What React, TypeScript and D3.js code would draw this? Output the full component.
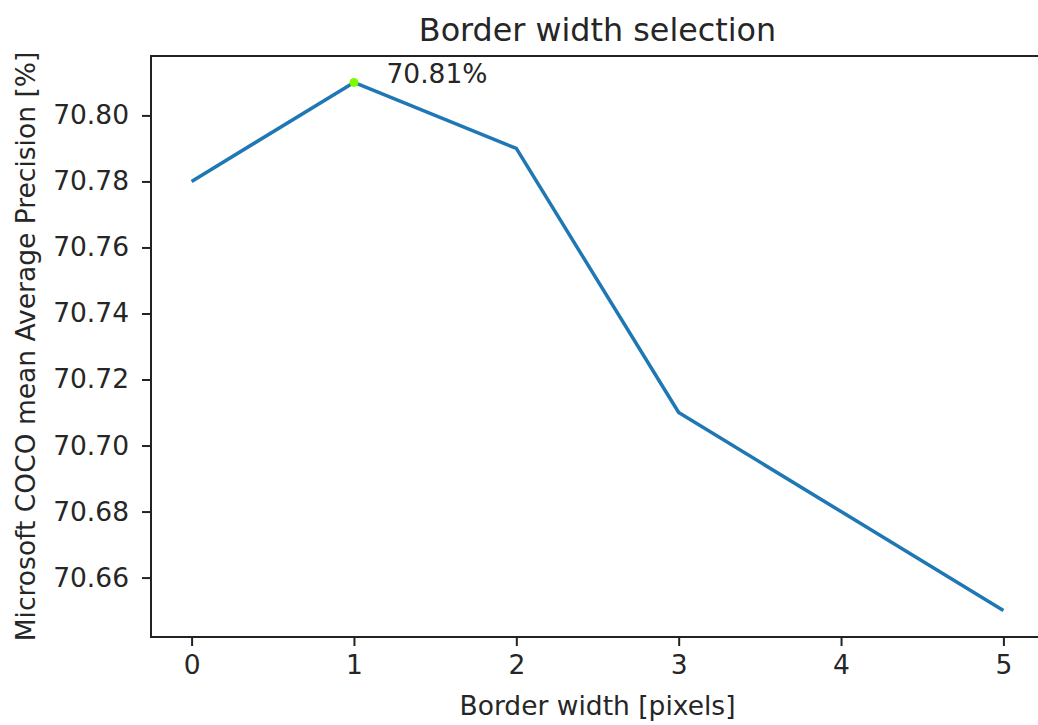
import { useRef, useEffect } from 'react'
import * as d3 from 'd3'

// Border width (pixels) vs. COCO mAP
const borderWidths = [0, 1, 2, 3, 4, 5]
const mapValues = [70.78, 70.81, 70.79, 70.71, 70.68, 70.65]
const xTicks = [0, 1, 2, 3, 4, 5]
const yTicks = [70.66, 70.68, 70.7, 70.72, 70.74, 70.76, 70.78, 70.8]
const bestIndex = 1
const bestLabel = '70.81%'

const FONT = '"DejaVu Sans", sans-serif'
const TICK_SIZE = 26.5
const TITLE_SIZE = 31.8

export default function App() {
  const svgRef = useRef<SVGSVGElement | null>(null)

  useEffect(() => {
    if (!svgRef.current) return
    const svg = d3.select(svgRef.current)
    svg.selectAll('*').remove()

    const width = 1038
    const height = 725
    const margin = { top: 56, right: -6, bottom: 88, left: 151 }
    const innerWidth = width - margin.left - margin.right
    const innerHeight = height - margin.top - margin.bottom

    svg.attr('width', width).attr('height', height)

    const g = svg.append('g').attr('transform', `translate(${margin.left},${margin.top})`)

    // matplotlib-like 5% margins
    const xScale = d3.scaleLinear().domain([-0.25, 5.25]).range([0, innerWidth])
    const yScale = d3.scaleLinear().domain([70.642, 70.818]).range([innerHeight, 0])

    // line
    const line = d3.line<number>()
      .x((_, i) => xScale(borderWidths[i]))
      .y(d => yScale(d))

    g.append('path')
      .datum(mapValues)
      .attr('d', line)
      .attr('fill', 'none')
      .attr('stroke', '#1f77b4')
      .attr('stroke-width', 3.5)
      .attr('stroke-linejoin', 'round')

    // best point
    g.append('circle')
      .attr('cx', xScale(borderWidths[bestIndex]))
      .attr('cy', yScale(mapValues[bestIndex]))
      .attr('r', 4.5)
      .attr('fill', '#7cfc00')

    g.append('text')
      .attr('x', xScale(borderWidths[bestIndex] + 0.2))
      .attr('y', yScale(mapValues[bestIndex]) + 1)
      .attr('font-family', FONT)
      .attr('font-size', TICK_SIZE)
      .attr('fill', '#262626')
      .text(bestLabel)

    // spines (right one falls outside the picture)
    const spine = (x1: number, y1: number, x2: number, y2: number) =>
      g.append('line')
        .attr('x1', x1).attr('y1', y1).attr('x2', x2).attr('y2', y2)
        .attr('stroke', '#222')
        .attr('stroke-width', 2)
    spine(0, -1, 0, innerHeight + 1)
    spine(-1, 0, innerWidth, 0)
    spine(-1, innerHeight, innerWidth, innerHeight)

    // X axis
    const xAxis = g.append('g')
      .attr('transform', `translate(0,${innerHeight})`)
      .call(d3.axisBottom(xScale).tickValues(xTicks).tickFormat(d3.format('d')).tickSize(9).tickPadding(9))
    xAxis.select('.domain').remove()
    xAxis.selectAll('line').attr('stroke', '#222').attr('stroke-width', 2)
    xAxis.selectAll('text')
      .attr('font-family', FONT)
      .attr('font-size', TICK_SIZE)
      .attr('fill', '#262626')

    // Y axis
    const yAxis = g.append('g')
      .call(d3.axisLeft(yScale).tickValues(yTicks).tickFormat(d3.format('.2f')).tickSize(9).tickPadding(13))
    yAxis.select('.domain').remove()
    yAxis.selectAll('line').attr('stroke', '#222').attr('stroke-width', 2)
    yAxis.selectAll('text')
      .attr('font-family', FONT)
      .attr('font-size', TICK_SIZE)
      .attr('fill', '#262626')

    // title
    svg.append('text')
      .attr('x', margin.left + innerWidth / 2)
      .attr('y', 41)
      .attr('text-anchor', 'middle')
      .attr('font-family', FONT)
      .attr('font-size', TITLE_SIZE)
      .attr('fill', '#262626')
      .text('Border width selection')

    // x label
    svg.append('text')
      .attr('x', margin.left + innerWidth / 2)
      .attr('y', 715)
      .attr('text-anchor', 'middle')
      .attr('font-family', FONT)
      .attr('font-size', TICK_SIZE)
      .attr('fill', '#262626')
      .text('Border width [pixels]')

    // y label
    svg.append('text')
      .attr('transform', `translate(35,${margin.top + innerHeight / 2}) rotate(-90)`)
      .attr('text-anchor', 'middle')
      .attr('font-family', FONT)
      .attr('font-size', TICK_SIZE)
      .attr('fill', '#262626')
      .text('Microsoft COCO mean Average Precision [%]')
  }, [])

  return (
    <div style={{ position: 'fixed', left: 0, top: 0, width: 1038, height: 725, background: '#fff', overflow: 'hidden' }}>
      <svg ref={svgRef} style={{ display: 'block' }} />
    </div>
  )
}
